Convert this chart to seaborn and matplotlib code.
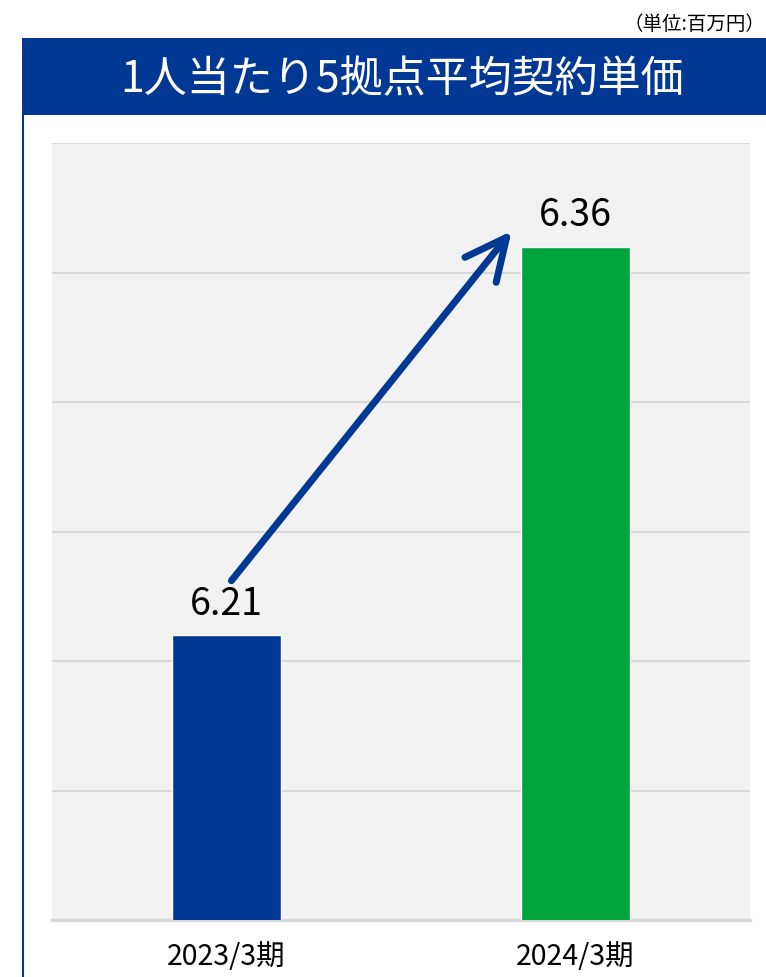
import numpy as np
import pandas as pd
import seaborn as sns
import matplotlib.pyplot as plt
from matplotlib.patches import Rectangle
from matplotlib.lines import Line2D

# data
periods = ["2023/3期", "2024/3期"]
values = [6.21, 6.36]
bar_colors = ["#003893", "#00A33C"]
title = "1人当たり5拠点平均契約単価"
unit = "（単位:百万円）"

df = pd.DataFrame({"period": periods, "value": values})

sns.set_theme(style="white")
plt.rcParams['font.family'] = ['Noto Sans CJK JP', 'DejaVu Sans']

fig = plt.figure(figsize=(7.66, 9.77), dpi=100)
ax = fig.add_axes([52/766, 1 - 920/977, 698/766, 777/977])
ax.set_facecolor("#F2F2F2")

sns.barplot(data=df, x="period", y="value", hue="period", palette=bar_colors,
            width=0.315, legend=False, ax=ax, zorder=3, saturation=1)

ax.set_ylim(6.10, 6.40)
ax.set_xlim(-0.5, 1.5)
ax.set_yticks(np.arange(6.10, 6.401, 0.05))
ax.yaxis.grid(True, color="#D9D9D9", linewidth=1.5, zorder=0)
ax.set_axisbelow(True)
ax.tick_params(axis="y", left=False, labelleft=False)
ax.tick_params(axis="x", bottom=False, labelsize=20.5, pad=10, colors="black")
ax.set_xlabel("")
ax.set_ylabel("")
for s in ["top", "left", "right"]:
    ax.spines[s].set_visible(False)
ax.spines["bottom"].set_color("#D9D9D9")
ax.spines["bottom"].set_linewidth(2.5)

# value labels
for i, v in enumerate(values):
    ax.text(i, v + 0.012, f"{v:.2f}", ha="center", va="center", fontsize=27, color="black", zorder=5)

# arrow between the two labels
ax.annotate("", xy=(1 - 0.183, values[1] + 0.006), xytext=(0.014, values[0] + 0.021),
            arrowprops=dict(arrowstyle="->,head_length=1.5,head_width=0.72", color="#003893",
                            lw=5, mutation_scale=20, shrinkA=0, shrinkB=0,
                            capstyle="round", joinstyle="round"),
            zorder=4)

# title bar and border
fig.add_artist(Rectangle((22/766, 1 - 115/977), 1, 77/977, transform=fig.transFigure,
                         facecolor="#003893", edgecolor="none"))
fig.add_artist(Line2D([23/766, 23/766], [0, 1 - 115/977], transform=fig.transFigure,
                      color="#003893", linewidth=1.5))
fig.text(402/766, 1 - 80/977, title, ha="center", va="center", fontsize=31, color="white")
fig.text(765/766, 1 - 24/977, unit, ha="right", va="center", fontsize=14, color="black")

fig.savefig("out.png", dpi=100)
